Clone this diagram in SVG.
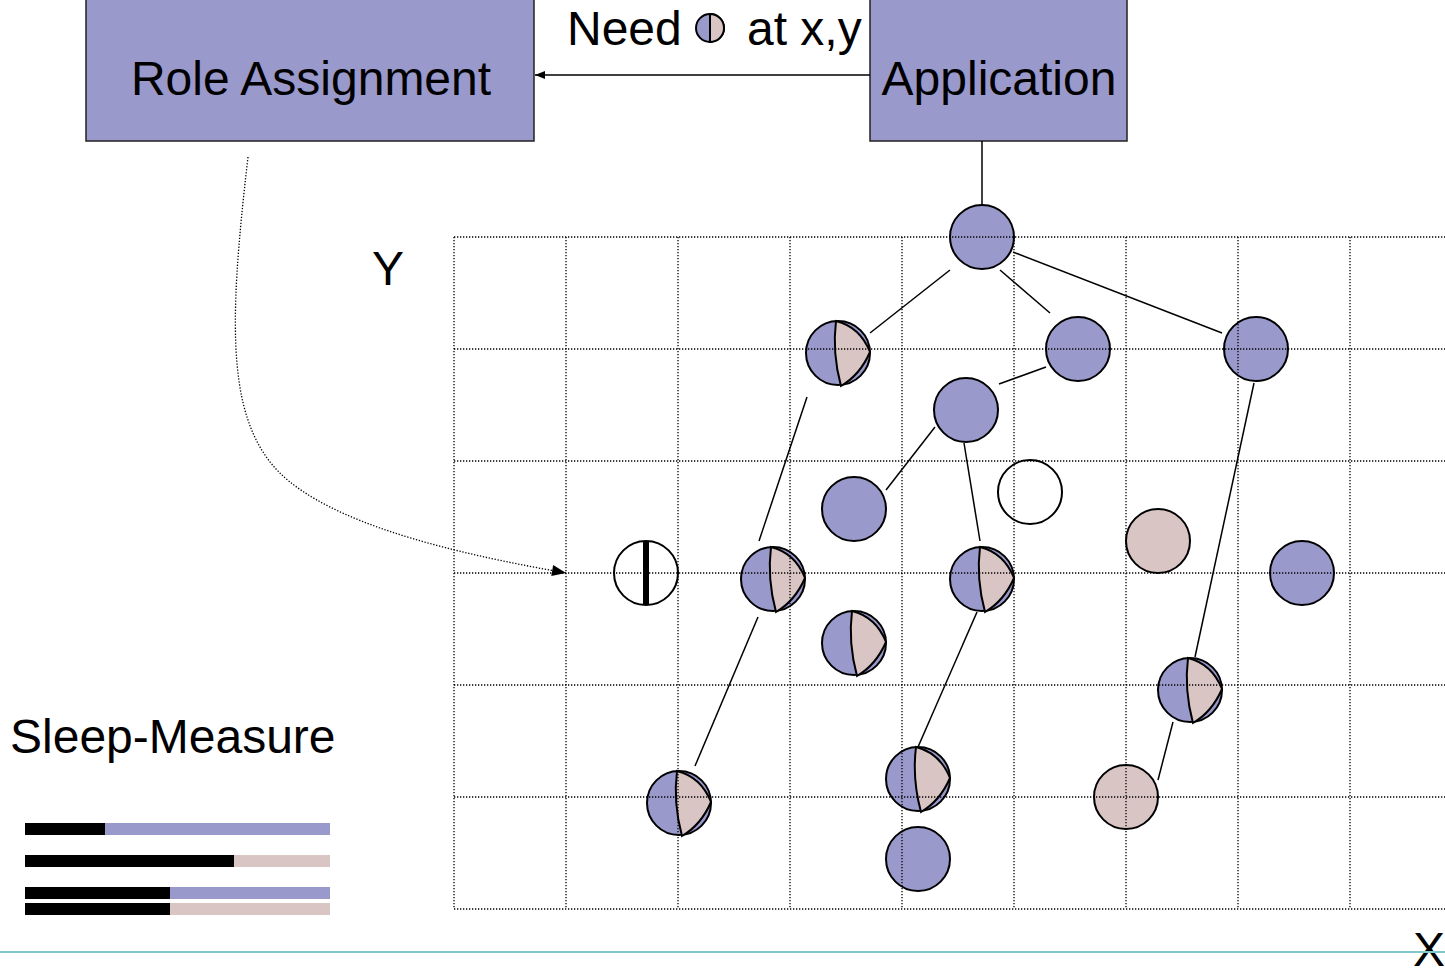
<svg xmlns="http://www.w3.org/2000/svg" width="1445" height="970" viewBox="0 0 1445 970">
<style>
.box{fill:#9999CC;stroke:#222;stroke-width:1.5}
.t{font-family:"Liberation Sans",Arial,sans-serif;font-size:48px;fill:#000}
.b{fill:#9999CC;stroke:#000;stroke-width:2}
.p{fill:#D9C5C3;stroke:#000;stroke-width:2}
.w{fill:#fff;stroke:#000;stroke-width:2}
.grid{stroke:#000;stroke-width:1.3;stroke-dasharray:1.3 1.7;fill:none}
.c{stroke:#000;stroke-width:1.5;fill:none}
</style>
<defs>
<marker id="ah" viewBox="0 0 10 10" refX="10" refY="5" markerWidth="12" markerHeight="10" markerUnits="userSpaceOnUse" orient="auto">
<path d="M0,1 L10,5 L0,9 Z" fill="#000"/>
</marker>
<marker id="ah2" viewBox="0 0 10 10" refX="10" refY="5" markerWidth="15" markerHeight="14" markerUnits="userSpaceOnUse" orient="auto">
<path d="M0,1 L10,5 L0,9 Z" fill="#000"/>
</marker>
<g id="half">
<circle cx="0" cy="0" r="32" class="b"/>
<path d="M-2,-32 Q22,-26 32,-1 Q22,22 3,33 Q-6,0 -2,-32 Z" class="p"/>
</g>
</defs>

<g id="role-assignment">
<rect x="86" y="-2" width="448" height="143" class="box"/>
<text x="311" y="95" text-anchor="middle" class="t">Role Assignment</text>
</g>
<g id="application">
<rect x="870" y="-2" width="257" height="143" class="box"/>
<text x="999" y="95" text-anchor="middle" class="t">Application</text>
</g>
<g id="need-label">
<text x="567" y="45" class="t">Need</text>
<circle cx="710" cy="28" r="14" class="b"/>
<path d="M710,14 A14,14 0 0 1 710,42 Z" fill="#D9C5C3" stroke="#000" stroke-width="2"/>
<text x="747" y="45" class="t">at x,y</text>
</g>
<text x="388" y="285" text-anchor="middle" class="t">Y</text>
<text x="10" y="753" class="t">Sleep-Measure</text>
<text x="1429" y="966" text-anchor="middle" class="t">X</text>

<g id="nodes">
<circle id="n0" cx="982" cy="237" r="32" class="b"/>
<use id="n1" href="#half" x="838" y="353"/>
<circle id="n2" cx="1078" cy="349" r="32" class="b"/>
<circle id="n3" cx="1256" cy="349" r="32" class="b"/>
<circle id="n4" cx="966" cy="410" r="32" class="b"/>
<circle id="n5" cx="854" cy="509" r="32" class="b"/>
<circle id="n6" cx="1030" cy="492" r="32" class="w"/>
<circle id="n7" cx="1158" cy="541" r="32" class="p"/>
<circle id="n8" cx="1302" cy="573" r="32" class="b"/>
<g id="n9"><circle cx="646" cy="573" r="32" class="w"/><rect x="643" y="541" width="6" height="64" fill="#000"/></g>
<use id="n10" href="#half" x="773" y="579"/>
<use id="n11" href="#half" x="982" y="579"/>
<use id="n12" href="#half" x="854" y="643"/>
<use id="n13" href="#half" x="1190" y="690"/>
<use id="n14" href="#half" x="679" y="803"/>
<use id="n15" href="#half" x="918" y="779"/>
<circle id="n16" cx="1126" cy="797" r="32" class="p"/>
<circle id="n17" cx="918" cy="859" r="32" class="b"/>
</g>

<g id="grid" class="grid">
<path d="M454,237H1445M454,349H1445M454,461H1445M454,573H1445M454,685H1445M454,797H1445M454,909H1445"/>
<path d="M454,237V909M566,237V909M678,237V909M790,237V909M902,237V909M1014,237V909M1126,237V909M1238,237V909M1350,237V909"/>
</g>

<g id="connectors">
<line x1="870" y1="75" x2="535" y2="75" class="c" marker-end="url(#ah)"/>
<line x1="982" y1="141" x2="982" y2="205" class="c"/>
<line x1="950" y1="270" x2="870" y2="333" class="c"/>
<line x1="1000" y1="270" x2="1050" y2="313" class="c"/>
<line x1="1013" y1="252" x2="1222" y2="333" class="c"/>
<line x1="1046" y1="367" x2="999" y2="384" class="c"/>
<line x1="935" y1="427" x2="886" y2="490" class="c"/>
<line x1="964" y1="443" x2="980" y2="541" class="c"/>
<line x1="807" y1="397" x2="759" y2="541" class="c"/>
<line x1="758" y1="617" x2="695" y2="766" class="c"/>
<line x1="1254" y1="383" x2="1195" y2="657" class="c"/>
<line x1="977" y1="612" x2="918" y2="747" class="c"/>
<line x1="1173" y1="722" x2="1158" y2="780" class="c"/>
<path d="M248,157 C228,330 225,430 290,482 C350,530 470,556 566,573" class="grid" marker-end="url(#ah2)"/>
</g>

<g id="sleep-bars">
<rect x="25" y="823" width="80" height="12" fill="#000"/>
<rect x="105" y="823" width="225" height="12" fill="#9999CC"/>
<rect x="25" y="855" width="209" height="12" fill="#000"/>
<rect x="234" y="855" width="96" height="12" fill="#D9C5C3"/>
<rect x="25" y="887" width="145" height="12" fill="#000"/>
<rect x="170" y="887" width="160" height="12" fill="#9999CC"/>
<rect x="25" y="903" width="145" height="12" fill="#000"/>
<rect x="170" y="903" width="160" height="12" fill="#D9C5C3"/>
</g>
<line x1="0" y1="952" x2="1445" y2="952" stroke="#80C8CC" stroke-width="2"/>
</svg>
